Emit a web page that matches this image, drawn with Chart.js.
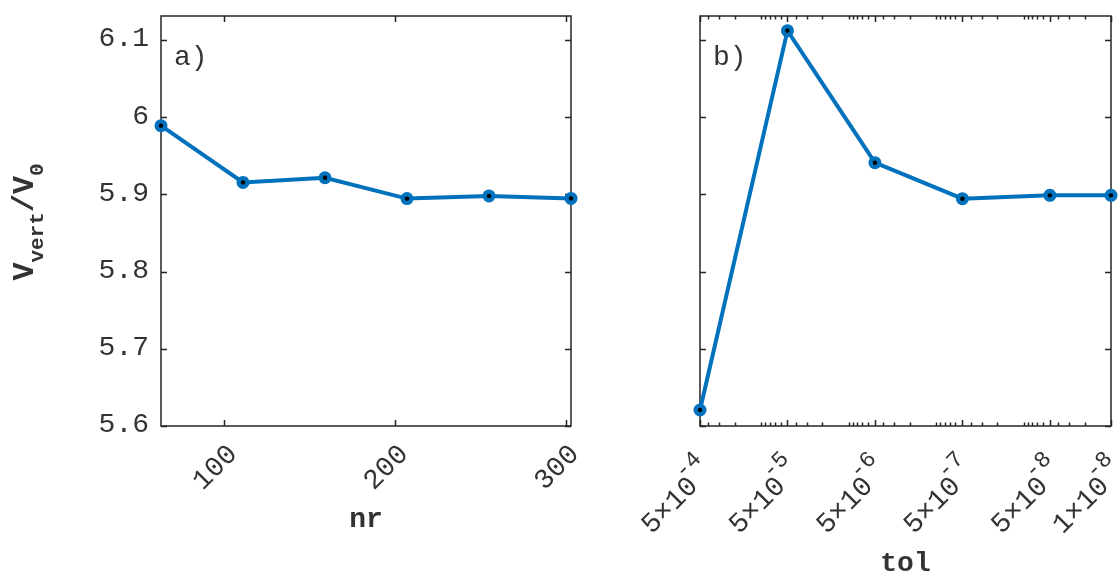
<!DOCTYPE html>
<html>
<head>
<meta charset="utf-8">
<title>vvert convergence</title>
<script src="https://cdn.jsdelivr.net/npm/chart.js@4/dist/chart.umd.min.js"></script>
<style>
  body { margin: 0; background: #fff; }
  #wrap { position: relative; width: 1119px; height: 573px; }
  canvas { position: absolute; top: 0; }
  #left { left: 0; }
  #right { left: 620px; }
</style>
</head>
<body>
<div id="wrap">
  <canvas id="left" width="620" height="573"></canvas>
  <canvas id="right" width="499" height="573"></canvas>
</div>
<script>
// radial resolution sweep
const nrValues = [63, 111, 159, 207, 255, 303];
const vertNr = [5.989, 5.9155, 5.9215, 5.8945, 5.898, 5.8948];

// solver tolerance sweep
const tolValues = [5e-4, 5e-5, 5e-6, 5e-7, 5e-8, 1e-8];
const vertTol = [5.6207, 6.112, 5.941, 5.8944, 5.8987, 5.8987];

const yTicks = [5.6, 5.7, 5.8, 5.9, 6, 6.1];
const nrTicks = [100, 200, 300];
const tolTicks = [5e-4, 5e-5, 5e-6, 5e-7, 5e-8, 1e-8];
const tolMantissa = ['5', '5', '5', '5', '5', '1'];
const tolExponent = ['-4', '-5', '-6', '-7', '-8', '-8'];

const BLUE = '#0072BD';
const AXIS = '#262626';
const TEXT = '#333333';
const MONO = '"Liberation Mono", "DejaVu Sans Mono", monospace';
const FS = 28;

function points(xs, ys) {
    return xs.map((x, i) => ({ x: x, y: ys[i] }));
}

function datasets(xs, ys) {
    const pts = points(xs, ys);
    return [
        { data: pts, showLine: false, pointRadius: 2.2, pointBackgroundColor: '#000',
          pointBorderWidth: 0, clip: false, order: 0 },
        { data: pts, borderColor: BLUE, borderWidth: 4, pointRadius: 6.5,
          pointBackgroundColor: BLUE, pointBorderWidth: 0, clip: false, order: 1 }
    ];
}

// log minor ticks (1..9 x 10^k) that are not already major ticks
function logMinor(lo, hi) {
    const out = [];
    for (let k = -9; k <= -3; k++) {
        for (let m = 1; m <= 9; m++) {
            const v = m * Math.pow(10, k);
            if (v < lo * 0.999 || v > hi * 1.001) continue;
            if (tolTicks.some(t => Math.abs(t - v) / t < 1e-6)) continue;
            out.push(v);
        }
    }
    return out;
}

// box, inward ticks and all text
function framePlugin(opts) {
    return {
        id: 'frame',
        beforeDatasetsDraw(chart) {
            const ctx = chart.ctx;
            const a = chart.chartArea;
            const xs = chart.scales.x, ys = chart.scales.y;
            ctx.save();
            ctx.strokeStyle = AXIS;
            ctx.lineWidth = 1.5;
            ctx.strokeRect(a.left, a.top, a.right - a.left, a.bottom - a.top);
            ctx.beginPath();
            yTicks.forEach(v => {
                const py = Math.round(ys.getPixelForValue(v)) + 0.5;
                ctx.moveTo(a.left, py); ctx.lineTo(a.left + 6, py);
                ctx.moveTo(a.right, py); ctx.lineTo(a.right - 6, py);
            });
            opts.xTicks.forEach(v => {
                const px = Math.round(xs.getPixelForValue(v)) + 0.5;
                ctx.moveTo(px, a.bottom); ctx.lineTo(px, a.bottom - 6);
                ctx.moveTo(px, a.top); ctx.lineTo(px, a.top + 6);
            });
            (opts.minor || []).forEach(v => {
                const px = Math.round(xs.getPixelForValue(v)) + 0.5;
                ctx.moveTo(px, a.bottom); ctx.lineTo(px, a.bottom - 3.5);
                ctx.moveTo(px, a.top); ctx.lineTo(px, a.top + 3.5);
            });
            ctx.stroke();
            ctx.restore();
        },
        afterDraw(chart) {
            const ctx = chart.ctx;
            const a = chart.chartArea;
            const xs = chart.scales.x, ys = chart.scales.y;
            ctx.save();
            ctx.fillStyle = TEXT;

            // panel tag
            ctx.font = FS + 'px ' + MONO;
            ctx.textAlign = 'left';
            ctx.textBaseline = 'alphabetic';
            ctx.fillText(opts.tag, a.left + 13, 65);

            if (opts.yLabels) {
                ctx.textAlign = 'right';
                ctx.textBaseline = 'middle';
                yTicks.forEach(v => {
                    ctx.fillText(String(v), a.left - 12, ys.getPixelForValue(v) - 1);
                });
                drawYTitle(ctx, 33, 222);
            }

            opts.drawXLabels(ctx, xs, a);

            ctx.font = 'bold ' + FS + 'px ' + MONO;
            ctx.textAlign = 'center';
            ctx.textBaseline = 'alphabetic';
            ctx.fillText(opts.xTitle, (a.left + a.right) / 2, opts.xTitleY);
            ctx.restore();
        }
    };
}

function drawYTitle(ctx, x, cy) {
    const big = 'bold 30px ' + MONO;
    const small = 'bold 21px ' + MONO;
    const parts = [
        { t: 'V', f: big, dy: 0 },
        { t: 'vert', f: small, dy: 10 },
        { t: '/V', f: big, dy: 0 },
        { t: '0', f: small, dy: 10 }
    ];
    let total = 0;
    parts.forEach(p => { ctx.font = p.f; p.w = ctx.measureText(p.t).width; total += p.w; });
    ctx.save();
    ctx.translate(x, cy);
    ctx.rotate(-Math.PI / 2);
    ctx.textAlign = 'left';
    ctx.textBaseline = 'alphabetic';
    let cx = -total / 2;
    parts.forEach(p => {
        ctx.font = p.f;
        ctx.fillText(p.t, cx, p.dy);
        cx += p.w;
    });
    ctx.restore();
}

function nrLabels(ctx, xs, a) {
    ctx.font = FS + 'px ' + MONO;
    ctx.textAlign = 'right';
    ctx.textBaseline = 'middle';
    nrTicks.forEach(v => {
        ctx.save();
        ctx.translate(xs.getPixelForValue(v) + 9, a.bottom + 24);
        ctx.rotate(-Math.PI / 4);
        ctx.fillText(String(v), 0, 0);
        ctx.restore();
    });
}

function tolLabels(ctx, xs, a) {
    const supFont = '23px ' + MONO;
    tolTicks.forEach((v, i) => {
        ctx.save();
        ctx.translate(xs.getPixelForValue(v) - 6, a.bottom + 56);
        ctx.rotate(-Math.PI / 4);
        ctx.textBaseline = 'middle';
        ctx.textAlign = 'right';
        ctx.font = FS + 'px ' + MONO;
        ctx.fillText(tolMantissa[i] + '\u00d710', 0, 0);
        ctx.textAlign = 'left';
        ctx.font = supFont;
        ctx.fillText(tolExponent[i], -6, -16);
        ctx.restore();
    });
}

function baseOptions(xScale, padding) {
    return {
        responsive: false,
        animation: false,
        layout: { padding: padding },
        plugins: { legend: { display: false }, tooltip: { enabled: false } },
        scales: {
            x: Object.assign({ display: false }, xScale),
            y: { type: 'linear', display: false, min: 5.6, max: 6.131 }
        }
    };
}

new Chart(document.getElementById('left'), {
    type: 'line',
    data: { datasets: datasets(nrValues, vertNr) },
    options: baseOptions({ type: 'linear', min: 63, max: 303 },
        { left: 161, right: 49, top: 16, bottom: 147 }),
    plugins: [framePlugin({
        tag: 'a)', yLabels: true, xTicks: nrTicks,
        drawXLabels: nrLabels, xTitle: 'nr', xTitleY: 527
    })]
});

new Chart(document.getElementById('right'), {
    type: 'line',
    data: { datasets: datasets(tolValues, vertTol) },
    options: baseOptions({ type: 'logarithmic', min: 1e-8, max: 5e-4, reverse: true },
        { left: 80, right: 8, top: 16, bottom: 147 }),
    plugins: [framePlugin({
        tag: 'b)', yLabels: false, xTicks: tolTicks, minor: logMinor(1e-8, 5e-4),
        drawXLabels: tolLabels, xTitle: 'tol', xTitleY: 571
    })]
});
</script>
</body>
</html>
